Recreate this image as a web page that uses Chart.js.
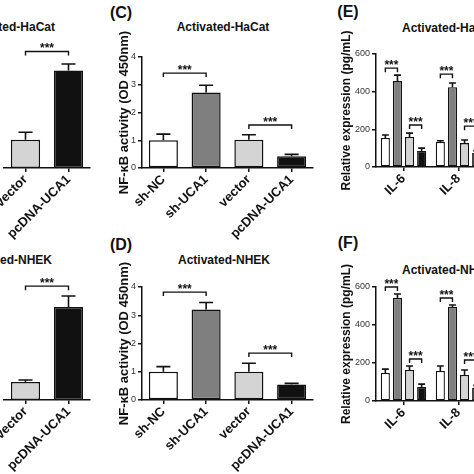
<!DOCTYPE html>
<html>
<head>
<meta charset="utf-8">
<script src="https://cdn.jsdelivr.net/npm/chart.js@4"></script>
<style>
  body { margin: 0; width: 474px; height: 474px; overflow: hidden; background: #fff; position: relative; font-family: "Liberation Sans", Arial, sans-serif; }
  .box { position: absolute; }
  .txt { position: absolute; font-weight: bold; color: #111; white-space: nowrap; line-height: 1; }
  .letter { font-size: 16px; transform: translate(-50%, -50%); }
  .ttl { font-size: 12px; }
</style>
</head>
<body>

<div class="txt letter" style="left:121px;top:13px">(C)</div>
<div class="txt letter" style="left:121px;top:245px">(D)</div>
<div class="txt letter" style="left:348px;top:12px">(E)</div>
<div class="txt letter" style="left:348px;top:243px">(F)</div>

<div class="txt ttl" style="left:55px;top:27px;transform:translate(-100%,-50%)">Activated-HaCat</div>
<div class="txt ttl" style="left:223px;top:27px;transform:translate(-50%,-50%)">Activated-HaCat</div>
<div class="txt ttl" style="left:402px;top:28px;transform:translate(0,-50%)">Activated-HaCat</div>
<div class="txt ttl" style="left:52px;top:260px;transform:translate(-100%,-50%)">Activated-NHEK</div>
<div class="txt ttl" style="left:224px;top:260px;transform:translate(-50%,-50%)">Activated-NHEK</div>
<div class="txt ttl" style="left:402px;top:270px;transform:translate(0,-50%)">Activated-NHEK</div>

<div class="box" style="left:-60px;top:20px"><canvas id="b-hacat" width="155" height="220"></canvas></div>
<div class="box" style="left:-60px;top:250px"><canvas id="b-nhek" width="155" height="224"></canvas></div>
<div class="box" style="left:117px;top:20px"><canvas id="c-hacat" width="201" height="220"></canvas></div>
<div class="box" style="left:117px;top:250px"><canvas id="d-nhek" width="201" height="224"></canvas></div>
<div class="box" style="left:339px;top:20px"><canvas id="e-hacat" width="147" height="217"></canvas></div>
<div class="box" style="left:339px;top:250px"><canvas id="f-nhek" width="147" height="224"></canvas></div>

<script>
// ---- data ----
const overLabels = ['vector', 'pcDNA-UCA1'];
const overColors = ['#d4d4d4', '#111111'];
const overHacatMean = [1.02, 3.51];
const overHacatErr = [0.27, 0.24];
const overNhekMean = [0.64, 3.29];
const overNhekErr = [0.07, 0.39];

const nfkbLabels = ['sh-NC', 'sh-UCA1', 'vector', 'pcDNA-UCA1'];
const nfkbColors = ['#ffffff', '#7f7f7f', '#d4d4d4', '#111111'];
const nfkbHacatMean = [1.0, 2.72, 1.02, 0.42];
const nfkbHacatErr = [0.22, 0.26, 0.18, 0.07];
const nfkbNhekMean = [1.0, 3.2, 1.0, 0.55];
const nfkbNhekErr = [0.18, 0.25, 0.3, 0.04];
const nfkbTicks = [0, 1, 2, 3, 4];

const cytoLabels = ['IL-6', 'IL-8'];
const cytoGroups = ['sh-NC', 'sh-UCA1', 'vector', 'pcDNA-UCA1'];
// one row per group, one column per cytokine
const cytoHacatMean = [[154, 133], [456, 424], [159, 127], [85, 75]];
const cytoHacatErr = [[16, 6], [32, 22], [21, 16], [15, 12]];
const cytoNhekMean = [[147, 158], [542, 495], [163, 137], [74, 70]];
const cytoNhekErr = [[21, 26], [21, 10], [21, 26], [15, 12]];
const cytoTicks = [0, 200, 400, 600];

// significance brackets: [datasetIndex, barIndex] -> [datasetIndex, barIndex] at value
const overHacatSig = [[[0, 0], [0, 1], 4.2]];
const overNhekSig = [[[0, 0], [0, 1], 4.03]];
const nfkbHacatSig = [[[0, 0], [0, 1], 3.42], [[0, 2], [0, 3], 1.55]];
const nfkbNhekSig = [[[0, 0], [0, 1], 3.82], [[0, 2], [0, 3], 1.66]];
const cytoHacatSig = [[[0, 0], [1, 0], 525], [[2, 0], [3, 0], 223], [[0, 1], [1, 1], 493], [[2, 1], [3, 1], 217]];
const cytoNhekSig = [[[0, 0], [1, 0], 600], [[2, 0], [3, 0], 221], [[0, 1], [1, 1], 542], [[2, 1], [3, 1], 216]];

const INK = '#111';
const FONT = '"Liberation Sans", Arial, sans-serif';

// error bars (upper only) and *** brackets
const marks = {
  id: 'marks',
  afterDatasetsDraw(chart, args, opts) {
    const { ctx } = chart;
    const y = chart.scales.y;
    ctx.save();
    ctx.strokeStyle = INK;
    ctx.lineWidth = 1.6;
    chart.data.datasets.forEach((ds, di) => {
      chart.getDatasetMeta(di).data.forEach((bar, i) => {
        const top = y.getPixelForValue(ds.data[i] + ds.errors[i]);
        const half = Math.min(7, bar.width * 0.38);
        ctx.beginPath();
        ctx.moveTo(bar.x, bar.y);
        ctx.lineTo(bar.x, top);
        ctx.moveTo(bar.x - half, top);
        ctx.lineTo(bar.x + half, top);
        ctx.stroke();
      });
    });
    ctx.lineWidth = 1.4;
    ctx.fillStyle = INK;
    ctx.font = 'bold 12px ' + FONT;
    ctx.textAlign = 'center';
    ctx.textBaseline = 'alphabetic';
    (opts.sig || []).forEach(([a, b, v]) => {
      const xa = chart.getDatasetMeta(a[0]).data[a[1]].x;
      const xb = chart.getDatasetMeta(b[0]).data[b[1]].x;
      const py = y.getPixelForValue(v);
      ctx.beginPath();
      ctx.moveTo(xa, py + 4);
      ctx.lineTo(xa, py);
      ctx.lineTo(xb, py);
      ctx.lineTo(xb, py + 4);
      ctx.stroke();
      ctx.fillText('***', (xa + xb) / 2, py + 1);
    });
    ctx.restore();
  }
};

function makeChart(id, labels, datasets, o) {
  return new Chart(document.getElementById(id), {
    type: 'bar',
    data: { labels, datasets },
    plugins: [marks],
    options: {
      responsive: false,
      animation: false,
      layout: { padding: { top: o.padTop, right: o.padRight, left: 0, bottom: 0 } },
      plugins: { legend: { display: false }, tooltip: { enabled: false }, marks: { sig: o.sig } },
      scales: {
        x: {
          offset: true,
          afterFit: (s) => { s.height = o.xH; },
          border: { color: INK, width: 1.5 },
          grid: { offset: false, drawOnChartArea: false, tickLength: 4, color: INK, lineWidth: 1.5 },
          ticks: { autoSkip: false, minRotation: 45, maxRotation: 45, padding: 0, color: INK, font: { family: FONT, size: 13, weight: 'bold' } }
        },
        y: {
          min: 0,
          max: o.ticks[o.ticks.length - 1],
          afterFit: (s) => { s.width = o.yW; },
          afterBuildTicks: (s) => { s.ticks = o.ticks.map(v => ({ value: v })); },
          border: { display: !o.hideY, color: INK, width: 1.5 },
          grid: { display: !o.hideY, drawOnChartArea: false, tickLength: 4, color: INK, lineWidth: 1.5 },
          ticks: { display: !o.hideY, padding: 2, color: '#333', font: { family: FONT, size: 9 } },
          title: { display: !!o.title, text: o.title || '', padding: 0, color: INK, font: { family: FONT, size: o.titleSize || 13, weight: 'bold' } }
        }
      }
    }
  });
}

const single = (mean, err, colors) => [{
  data: mean, errors: err, backgroundColor: colors, borderColor: INK, borderWidth: 1.5,
  borderSkipped: false, barPercentage: 0.68, categoryPercentage: 1.0
}];

const grouped = (mean, err) => cytoGroups.map((g, k) => ({
  label: g, data: mean[k], errors: err[k], backgroundColor: nfkbColors[k], borderColor: INK, borderWidth: 1.3,
  borderSkipped: false, barPercentage: 0.75, categoryPercentage: 0.88
}));

makeChart('b-hacat', overLabels, single(overHacatMean, overHacatErr, overColors),
  { padTop: 37, padRight: 5, yW: 64, xH: 72, ticks: nfkbTicks, hideY: true, sig: overHacatSig });
makeChart('b-nhek', overLabels, single(overNhekMean, overNhekErr, overColors),
  { padTop: 37, padRight: 5, yW: 64, xH: 74, ticks: nfkbTicks, hideY: true, sig: overNhekSig });

makeChart('c-hacat', nfkbLabels, single(nfkbHacatMean, nfkbHacatErr, nfkbColors),
  { padTop: 37, padRight: 5, yW: 25, xH: 72, ticks: nfkbTicks, title: 'NF-κB activity (OD 450nm)', sig: nfkbHacatSig });
makeChart('d-nhek', nfkbLabels, single(nfkbNhekMean, nfkbNhekErr, nfkbColors),
  { padTop: 37, padRight: 5, yW: 25, xH: 74, ticks: nfkbTicks, title: 'NF-κB activity (OD 450nm)', sig: nfkbNhekSig });

makeChart('e-hacat', cytoLabels, grouped(cytoHacatMean, cytoHacatErr),
  { padTop: 34, padRight: 0, yW: 37, xH: 70, ticks: cytoTicks, title: 'Relative expression (pg/mL)', titleSize: 12, sig: cytoHacatSig });
makeChart('f-nhek', cytoLabels, grouped(cytoNhekMean, cytoNhekErr),
  { padTop: 37, padRight: 0, yW: 37, xH: 73, ticks: cytoTicks, title: 'Relative expression (pg/mL)', titleSize: 12, sig: cytoNhekSig });
</script>
</body>
</html>
